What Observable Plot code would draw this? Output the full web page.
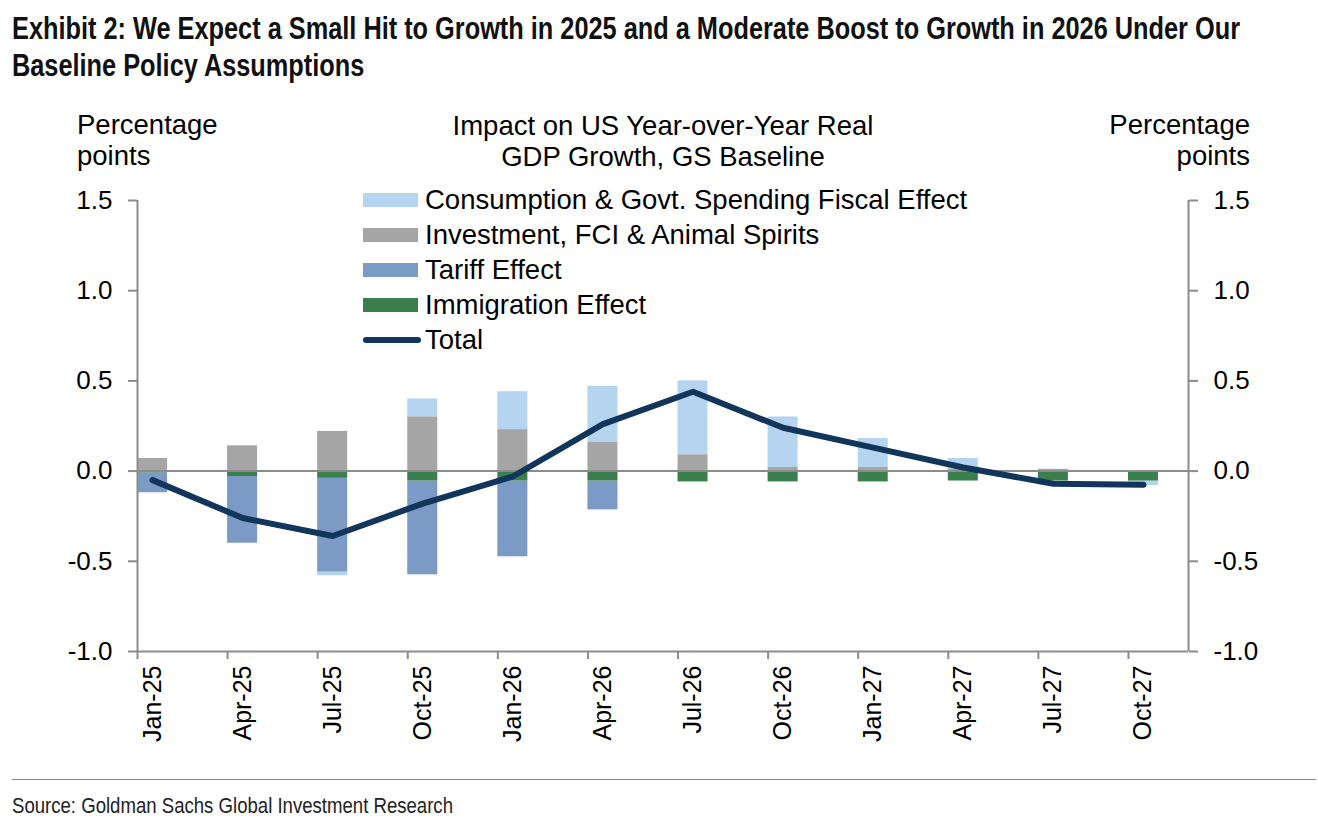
<!DOCTYPE html>
<html>
<head>
<meta charset="utf-8">
<script src="https://cdn.jsdelivr.net/npm/d3@7"></script>
<script src="https://cdn.jsdelivr.net/npm/@observablehq/plot@0.6"></script>
<style>
  html, body { margin: 0; padding: 0; background: #fff; }
  #page { position: relative; width: 1318px; height: 822px; overflow: hidden; font-family: "Liberation Sans", Arial, sans-serif; color: #000; }
  .title { position: absolute; left: 12px; top: 10px; font-family: "Liberation Sans", Arial, sans-serif; font-weight: bold; font-size: 31px; line-height: 37px; color: #111; }
  .sq { display: block; white-space: nowrap; transform-origin: 0 50%; width: max-content; }
  .abs { position: absolute; font-size: 27.5px; line-height: 31px; white-space: nowrap; }
  #chart { position: absolute; left: 0; top: 100px; }
  .legend { position: absolute; left: 363px; top: 183px; }
  .lrow { height: 34.8px; display: flex; align-items: center; font-size: 27.5px; white-space: nowrap; }
  .sw { width: 55px; height: 14px; margin-right: 7px; }
  .swl { width: 58px; height: 6px; border-radius: 3px; margin-right: 4px; }
  .rule { position: absolute; left: 12px; top: 779px; width: 1304px; height: 1px; background: #8c8c8c; }
  .source { position: absolute; left: 12px; top: 793px; font-family: "Liberation Sans", Arial, sans-serif; font-size: 22px; color: #222; }
</style>
</head>
<body>
<div id="page">
  <div class="title"><span class="sq" id="t1">Exhibit 2: We Expect a Small Hit to Growth in 2025 and a Moderate Boost to Growth in 2026 Under Our</span><span class="sq" id="t2">Baseline Policy Assumptions</span></div>
  <div class="abs" style="left:77px; top:109px;">Percentage<br>points</div>
  <div class="abs" style="right:68px; top:109px; text-align:right;">Percentage<br>points</div>
  <div class="abs" style="left:363px; width:600px; top:110px; text-align:center;">Impact on US Year-over-Year Real<br>GDP Growth, GS Baseline</div>
  <div id="chart"></div>
  <div class="legend" id="legend"></div>
  <div class="rule"></div>
  <div class="source"><span class="sq" id="src">Source: Goldman Sachs Global Investment Research</span></div>
</div>
<script>
// ---- Data (percentage points) ----
const dates = ["Jan-25","Apr-25","Jul-25","Oct-25","Jan-26","Apr-26","Jul-26","Oct-26","Jan-27","Apr-27","Jul-27","Oct-27"];
const consumption = [0, 0, -0.02, 0.10, 0.21, 0.31, 0.41, 0.28, 0.16, 0.06, -0.02, -0.025];
const investment  = [0.07, 0.14, 0.22, 0.30, 0.23, 0.16, 0.09, 0.02, 0.02, 0.01, 0.01, 0.00];
const tariff      = [-0.11, -0.37, -0.52, -0.52, -0.42, -0.16, 0, 0, 0, 0, 0, 0];
const immigration = [-0.01, -0.03, -0.04, -0.055, -0.055, -0.055, -0.06, -0.06, -0.06, -0.055, -0.055, -0.055];
const total       = [-0.05, -0.26, -0.36, -0.18, -0.03, 0.26, 0.44, 0.24, 0.13, 0.02, -0.07, -0.075];
const seriesNames = ["Consumption & Govt. Spending Fiscal Effect", "Investment, FCI & Animal Spirits", "Tariff Effect", "Immigration Effect"];
const seriesColors = ["#b4d4f0", "#a5a5a5", "#7b9ac5", "#3b7f4f"];
const totalName = "Total";
const totalColor = "#12355b";
const yTicks = [-1, -0.5, 0, 0.5, 1, 1.5];

// months since Jan-25 (quarterly points, each bar one month wide)
const monthsPerStep = 3;
const seriesValues = [consumption, investment, tariff, immigration];
const rows = dates.flatMap((d, i) => seriesNames.map((s, k) => ({
  date: d, m0: i * monthsPerStep, m1: i * monthsPerStep + 1, series: s, value: seriesValues[k][i]
})));
const totalRows = dates.map((d, i) => ({date: d, m: i * monthsPerStep + 0.5, total: total[i]}));
const stackOrder = [seriesNames[1], seriesNames[3], seriesNames[2], seriesNames[0]];
const tickMonths = dates.map((d, i) => i * monthsPerStep);
const labelMonths = dates.map((d, i) => i * monthsPerStep + 0.5);
const xEnd = (dates.length - 1) * monthsPerStep + 2;
const fmt = d => d.toFixed(1);
const axisGray = "#8c8c8c";

const chart = Plot.plot({
  width: 1318,
  height: 680,
  marginLeft: 137,
  marginRight: 130,
  marginTop: 100,
  marginBottom: 129,
  style: {fontFamily: "'Liberation Sans', Arial, sans-serif", color: "#000", background: "transparent"},
  x: {domain: [0, xEnd]},
  y: {domain: [-1, 1.5]},
  color: {domain: seriesNames, range: seriesColors},
  marks: [
    Plot.rectY(rows, Plot.stackY({x1: "m0", x2: "m1", y: "value", fill: "series", order: stackOrder})),
    Plot.ruleY([0], {stroke: axisGray, strokeWidth: 2}),
    Plot.ruleY([-1], {stroke: axisGray, strokeWidth: 2}),
    Plot.ruleX([0, xEnd], {stroke: axisGray, strokeWidth: 2}),
    Plot.line(totalRows, {x: "m", y: "total", stroke: totalColor, strokeWidth: 6, strokeLinecap: "round", strokeLinejoin: "round"}),
    Plot.axisY({anchor: "left", ticks: yTicks, tickFormat: fmt, tickSize: 9, tickPadding: 16, fontSize: 26, stroke: axisGray, strokeWidth: 2, fill: "#000", label: null}),
    Plot.axisY({anchor: "right", ticks: yTicks, tickFormat: fmt, tickSize: 9, tickPadding: 16, fontSize: 26, stroke: axisGray, strokeWidth: 2, fill: "#000", label: null}),
    Plot.axisX({ticks: tickMonths, tickFormat: () => "", tickSize: 8, stroke: axisGray, strokeWidth: 2, label: null}),
    Plot.axisX({ticks: labelMonths, tickFormat: d => dates[Math.round((d - 0.5) / monthsPerStep)], tickSize: 0, tickPadding: 14, tickRotate: -90, fontSize: 25, fill: "#000", label: null})
  ]
});
document.getElementById("chart").appendChild(chart);

// legend
const legend = document.getElementById("legend");
seriesNames.forEach((s, k) => {
  const r = document.createElement("div"); r.className = "lrow";
  r.innerHTML = `<div class="sw" style="background:${seriesColors[k]}"></div><span>${s.replace(/&/g, "&amp;")}</span>`;
  legend.appendChild(r);
});
{
  const r = document.createElement("div"); r.className = "lrow";
  r.innerHTML = `<div class="swl" style="background:${totalColor}"></div><span>${totalName}</span>`;
  legend.appendChild(r);
}

// condensed look for title and source: squeeze horizontally to the reference widths
function squeeze(ids, targetWidthOfFirst) {
  const first = document.getElementById(ids[0]);
  const k = targetWidthOfFirst / first.getBoundingClientRect().width;
  ids.forEach(id => { document.getElementById(id).style.transform = `scaleX(${k})`; });
}
squeeze(["t1", "t2"], 1228);
squeeze(["src"], 441);
</script>
</body>
</html>
